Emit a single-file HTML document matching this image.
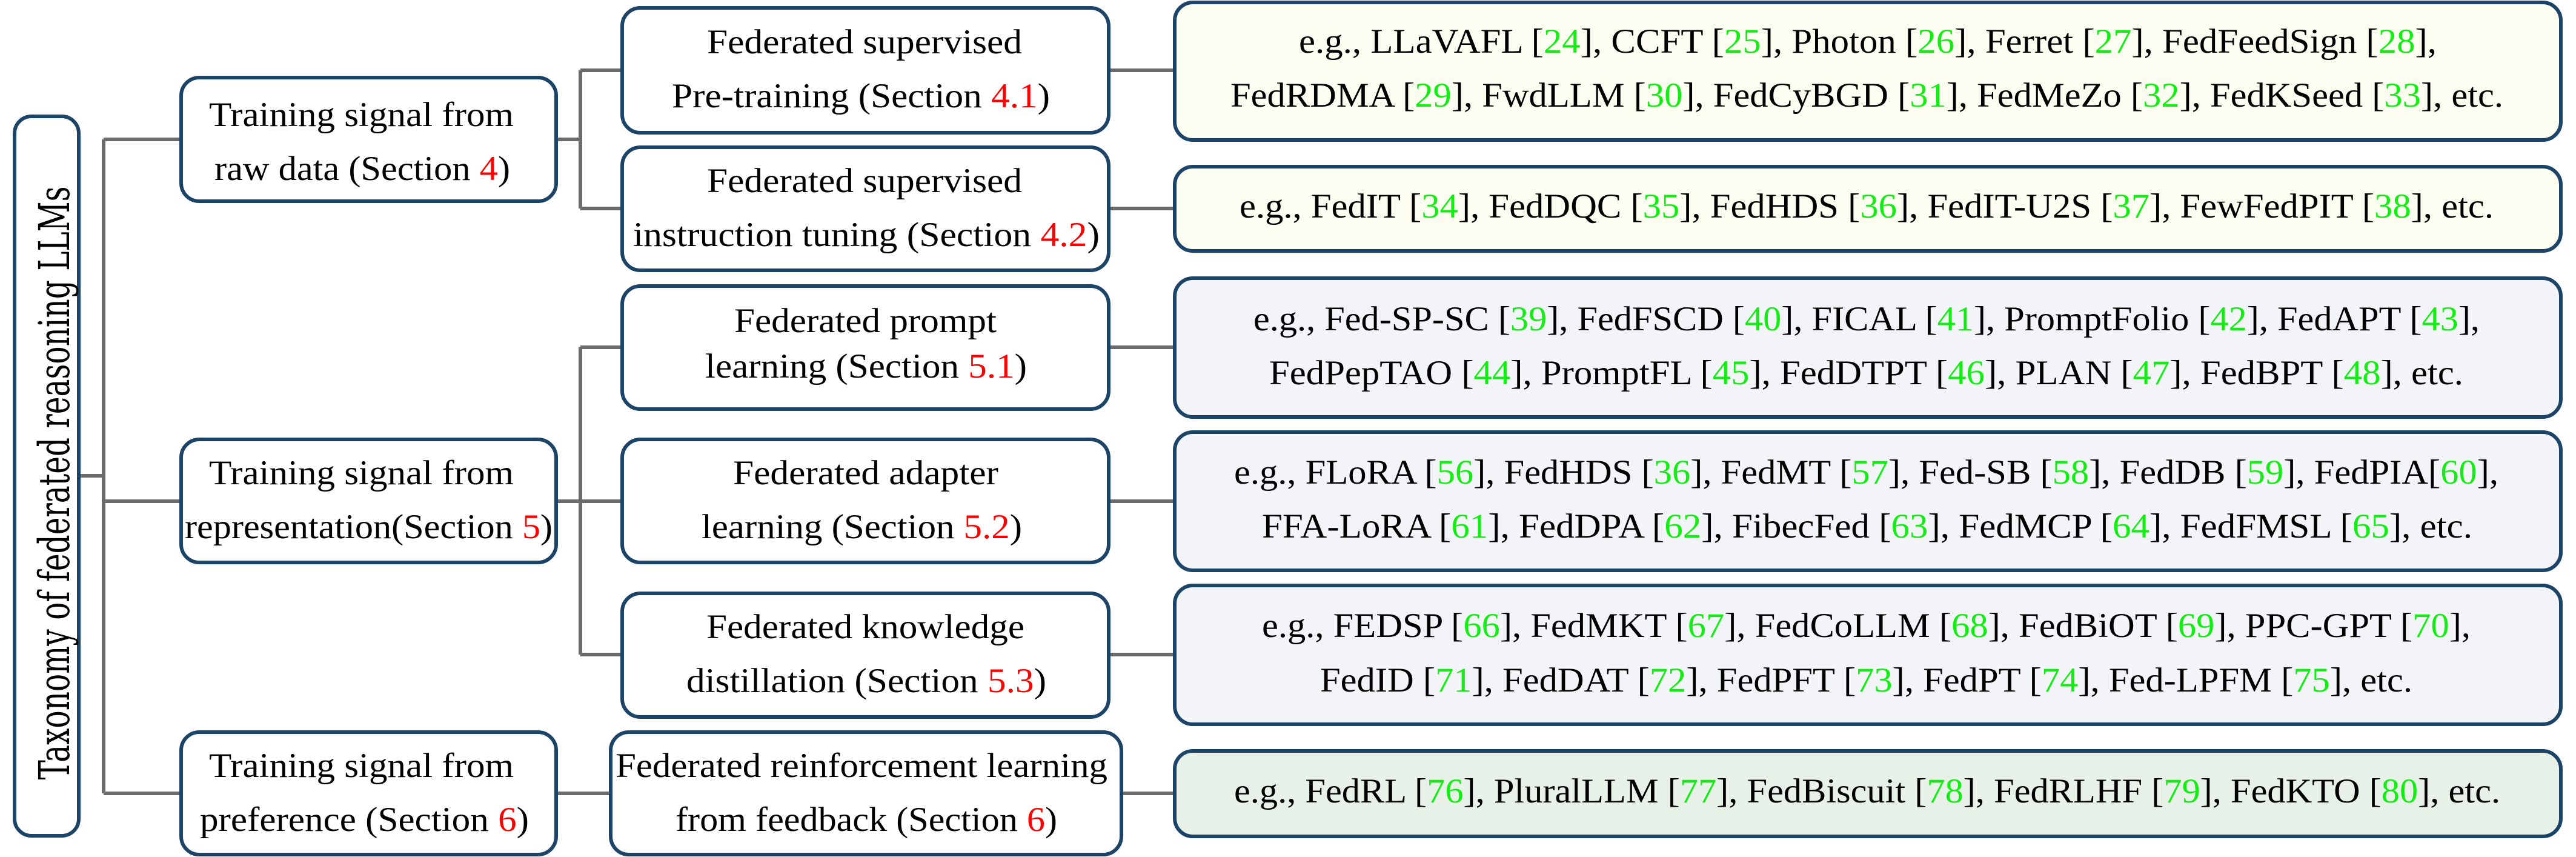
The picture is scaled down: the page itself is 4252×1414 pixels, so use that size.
<!DOCTYPE html>
<html><head><meta charset="utf-8"><style>
html,body{margin:0;padding:0;background:#fff;}
svg{display:block}
text{font-family:"Liberation Serif",serif;font-size:57px;fill:#000}
.g{fill:#11ee11}.r{fill:#ff0000}
</style></head><body>
<svg width="4252" height="1414" viewBox="0 0 4252 1414" xmlns="http://www.w3.org/2000/svg">
<g stroke="#6b6b6b" stroke-width="6" fill="none">
<path d="M130 785H171M171 230V1309M171 230H299M171 827H299M171 1309H299"/>
<path d="M918 230H958M958 116V344M958 116H1027M958 344H1027"/>
<path d="M918 827H1027M958 573V1080M958 573H1027M958 1080H1027"/>
<path d="M918 1309H1008"/>
<path d="M1830 116H1939M1830 344H1939M1830 573H1939M1830 827H1939M1830 1080H1939M1851 1309H1939"/>
</g>
<g stroke="#1b4468" stroke-width="6">
<rect x="24" y="192" width="106" height="1187" rx="28" fill="#fff"/>
<rect x="299" y="128" width="619" height="204" rx="30" fill="#fff"/>
<rect x="299" y="725" width="619" height="203" rx="30" fill="#fff"/>
<rect x="299" y="1208" width="619" height="202" rx="30" fill="#fff"/>
<rect x="1027" y="13" width="803" height="206" rx="30" fill="#fff"/>
<rect x="1027" y="243" width="803" height="203" rx="30" fill="#fff"/>
<rect x="1027" y="472" width="803" height="203" rx="30" fill="#fff"/>
<rect x="1027" y="725" width="803" height="203" rx="30" fill="#fff"/>
<rect x="1027" y="979" width="803" height="204" rx="30" fill="#fff"/>
<rect x="1008" y="1208" width="843" height="202" rx="30" fill="#fff"/>
<rect x="1939" y="4" width="2288" height="227" rx="30" fill="#fdfcf0"/>
<rect x="1939" y="275" width="2288" height="139" rx="30" fill="#fdfcf0"/>
<rect x="1939" y="459" width="2288" height="229" rx="30" fill="#f3f4f8"/>
<rect x="1939" y="713" width="2288" height="228" rx="30" fill="#f3f4f8"/>
<rect x="1939" y="966" width="2288" height="229" rx="30" fill="#f3f4f8"/>
<rect x="1939" y="1239" width="2288" height="141" rx="30" fill="#e8f1e8"/>
</g>
<text transform="translate(114,797) rotate(-90)" text-anchor="middle" style="font-family:'DejaVu Serif',serif;font-size:70px" textLength="979" lengthAdjust="spacingAndGlyphs">Taxonomy of federated reasoning LLMs</text>

<text x="345" y="208" textLength="503" lengthAdjust="spacingAndGlyphs">Training signal from</text>
<text x="354" y="297" textLength="488" lengthAdjust="spacingAndGlyphs">raw data (Section <tspan class="r">4</tspan>)</text>
<text x="345" y="799" textLength="503" lengthAdjust="spacingAndGlyphs">Training signal from</text>
<text x="305" y="888" textLength="607" lengthAdjust="spacingAndGlyphs">representation(Section <tspan class="r">5</tspan>)</text>
<text x="345" y="1282" textLength="503" lengthAdjust="spacingAndGlyphs">Training signal from</text>
<text x="330" y="1371" textLength="543" lengthAdjust="spacingAndGlyphs">preference (Section <tspan class="r">6</tspan>)</text>

<text x="1167" y="88" textLength="520" lengthAdjust="spacingAndGlyphs">Federated supervised</text>
<text x="1109" y="177" textLength="624" lengthAdjust="spacingAndGlyphs">Pre-training (Section <tspan class="r">4.1</tspan>)</text>
<text x="1167" y="317" textLength="520" lengthAdjust="spacingAndGlyphs">Federated supervised</text>
<text x="1045" y="406" textLength="770" lengthAdjust="spacingAndGlyphs">instruction tuning (Section <tspan class="r">4.2</tspan>)</text>
<text x="1212" y="548" textLength="433" lengthAdjust="spacingAndGlyphs">Federated prompt</text>
<text x="1164" y="623" textLength="531" lengthAdjust="spacingAndGlyphs">learning (Section <tspan class="r">5.1</tspan>)</text>
<text x="1210" y="799" textLength="438" lengthAdjust="spacingAndGlyphs">Federated adapter</text>
<text x="1158" y="888" textLength="529" lengthAdjust="spacingAndGlyphs">learning (Section <tspan class="r">5.2</tspan>)</text>
<text x="1166" y="1053" textLength="525" lengthAdjust="spacingAndGlyphs">Federated knowledge</text>
<text x="1133" y="1142" textLength="594" lengthAdjust="spacingAndGlyphs">distillation (Section <tspan class="r">5.3</tspan>)</text>
<text x="1016" y="1282" textLength="812" lengthAdjust="spacingAndGlyphs">Federated reinforcement learning</text>
<text x="1115" y="1371" textLength="630" lengthAdjust="spacingAndGlyphs">from feedback (Section <tspan class="r">6</tspan>)</text>

<text x="2144" y="87" textLength="1878" lengthAdjust="spacingAndGlyphs">e.g., LLaVAFL [<tspan class="g">24</tspan>], CCFT [<tspan class="g">25</tspan>], Photon [<tspan class="g">26</tspan>], Ferret [<tspan class="g">27</tspan>], FedFeedSign [<tspan class="g">28</tspan>],</text>
<text x="2031" y="176" textLength="2101" lengthAdjust="spacingAndGlyphs">FedRDMA [<tspan class="g">29</tspan>], FwdLLM [<tspan class="g">30</tspan>], FedCyBGD [<tspan class="g">31</tspan>], FedMeZo [<tspan class="g">32</tspan>], FedKSeed [<tspan class="g">33</tspan>], etc.</text>
<text x="2046" y="359" textLength="2070" lengthAdjust="spacingAndGlyphs">e.g., FedIT [<tspan class="g">34</tspan>], FedDQC [<tspan class="g">35</tspan>], FedHDS [<tspan class="g">36</tspan>], FedIT-U2S [<tspan class="g">37</tspan>], FewFedPIT [<tspan class="g">38</tspan>], etc.</text>
<text x="2069" y="545" textLength="2024" lengthAdjust="spacingAndGlyphs">e.g., Fed-SP-SC [<tspan class="g">39</tspan>], FedFSCD [<tspan class="g">40</tspan>], FICAL [<tspan class="g">41</tspan>], PromptFolio [<tspan class="g">42</tspan>], FedAPT [<tspan class="g">43</tspan>],</text>
<text x="2095" y="634" textLength="1971" lengthAdjust="spacingAndGlyphs">FedPepTAO [<tspan class="g">44</tspan>], PromptFL [<tspan class="g">45</tspan>], FedDTPT [<tspan class="g">46</tspan>], PLAN [<tspan class="g">47</tspan>], FedBPT [<tspan class="g">48</tspan>], etc.</text>
<text x="2037" y="798" textLength="2087" lengthAdjust="spacingAndGlyphs">e.g., FLoRA [<tspan class="g">56</tspan>], FedHDS [<tspan class="g">36</tspan>], FedMT [<tspan class="g">57</tspan>], Fed-SB [<tspan class="g">58</tspan>], FedDB [<tspan class="g">59</tspan>], FedPIA[<tspan class="g">60</tspan>],</text>
<text x="2083" y="887" textLength="1998" lengthAdjust="spacingAndGlyphs">FFA-LoRA [<tspan class="g">61</tspan>], FedDPA [<tspan class="g">62</tspan>], FibecFed [<tspan class="g">63</tspan>], FedMCP [<tspan class="g">64</tspan>], FedFMSL [<tspan class="g">65</tspan>], etc.</text>
<text x="2083" y="1051" textLength="1995" lengthAdjust="spacingAndGlyphs">e.g., FEDSP [<tspan class="g">66</tspan>], FedMKT [<tspan class="g">67</tspan>], FedCoLLM [<tspan class="g">68</tspan>], FedBiOT [<tspan class="g">69</tspan>], PPC-GPT [<tspan class="g">70</tspan>],</text>
<text x="2179" y="1141" textLength="1803" lengthAdjust="spacingAndGlyphs">FedID [<tspan class="g">71</tspan>], FedDAT [<tspan class="g">72</tspan>], FedPFT [<tspan class="g">73</tspan>], FedPT [<tspan class="g">74</tspan>], Fed-LPFM [<tspan class="g">75</tspan>], etc.</text>
<text x="2037" y="1324" textLength="2090" lengthAdjust="spacingAndGlyphs">e.g., FedRL [<tspan class="g">76</tspan>], PluralLLM [<tspan class="g">77</tspan>], FedBiscuit [<tspan class="g">78</tspan>], FedRLHF [<tspan class="g">79</tspan>], FedKTO [<tspan class="g">80</tspan>], etc.</text>
</svg>
</body></html>
